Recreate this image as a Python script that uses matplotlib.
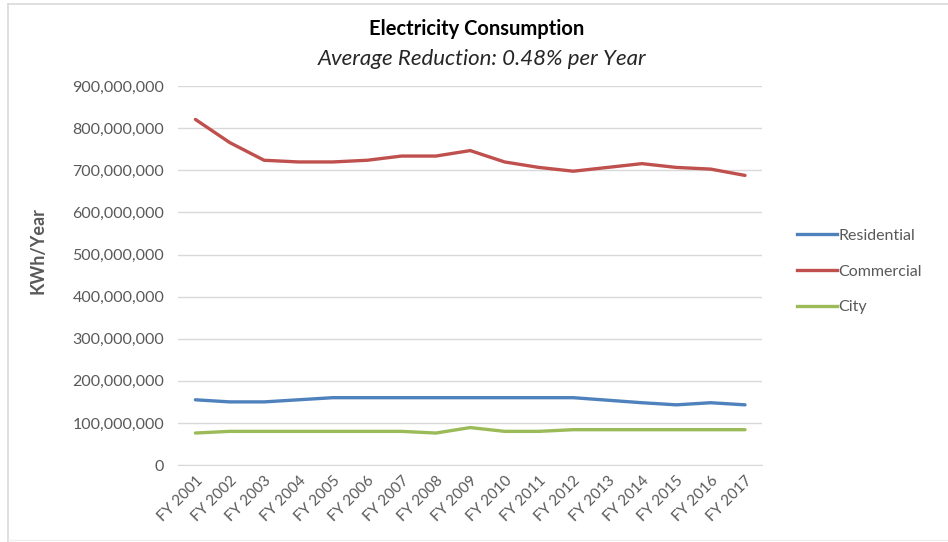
import matplotlib
matplotlib.use("Agg")
import matplotlib.pyplot as plt
import matplotlib.ticker as mticker
from matplotlib.lines import Line2D

plt.rcParams['font.family'] = ['Lato', 'DejaVu Sans']

# Data (kWh per year)
years = ['FY 2001', 'FY 2002', 'FY 2003', 'FY 2004', 'FY 2005', 'FY 2006',
         'FY 2007', 'FY 2008', 'FY 2009', 'FY 2010', 'FY 2011', 'FY 2012',
         'FY 2013', 'FY 2014', 'FY 2015', 'FY 2016', 'FY 2017']
residential = [155e6, 150e6, 150e6, 155e6, 160e6, 160e6, 160e6, 160e6, 160e6,
               160e6, 160e6, 160e6, 154e6, 148e6, 143e6, 148e6, 143e6]
commercial = [821e6, 766e6, 724e6, 720e6, 720e6, 724e6, 734e6, 734e6, 747e6,
              720e6, 707e6, 698e6, 707e6, 716e6, 707e6, 703e6, 688e6]
city = [76e6, 80e6, 80e6, 80e6, 80e6, 80e6, 80e6, 76e6, 89e6,
        80e6, 80e6, 84e6, 84e6, 84e6, 84e6, 84e6, 84e6]
y_ticks = [0, 100e6, 200e6, 300e6, 400e6, 500e6, 600e6, 700e6, 800e6, 900e6]

series = [('Residential', residential, '#4F81BD'),
          ('Commercial', commercial, '#C0504D'),
          ('City', city, '#9BBB59')]

text_gray = '#595959'
grid_gray = '#D9D9D9'

fig = plt.figure(figsize=(9.48, 5.42), dpi=100)
ax = fig.add_axes([0.188, 0.142, 0.616, 0.699])

x = list(range(len(years)))
for name, vals, col in series:
    ax.plot(x, vals, color=col, linewidth=2.4, label=name,
            solid_joinstyle='round', solid_capstyle='round')

ax.set_xlim(-0.5, len(years) - 0.5)
ax.set_ylim(0, 900e6)
ax.set_yticks(y_ticks)
ax.yaxis.set_major_formatter(mticker.FuncFormatter(lambda v, p: f'{int(v):,}'))
ax.set_xticks(x)
ax.set_xticklabels(years, rotation=45, ha='right', rotation_mode='anchor')

ax.grid(axis='y', color=grid_gray, linewidth=1)
ax.set_axisbelow(True)
for s in ['top', 'right', 'left']:
    ax.spines[s].set_visible(False)
ax.spines['bottom'].set_color(grid_gray)
ax.tick_params(axis='both', length=0, colors=text_gray)
ax.tick_params(axis='y', pad=10, labelsize=11.5)
ax.tick_params(axis='x', pad=6, labelsize=11)

ax.set_ylabel('KWh/Year', color=text_gray, fontsize=13, fontweight='bold')
ax.yaxis.set_label_coords(-0.225, 0.567)

fig.text(0.503, 0.947, 'Electricity Consumption', ha='center', va='center',
         fontsize=14.5, fontweight='bold', color='black')
fig.text(0.508, 0.892, 'Average Reduction: 0.48% per Year', ha='center',
         va='center', fontsize=16, style='italic', color='#262626')

handles = [Line2D([0], [0], color=c, lw=2.4) for _, _, c in series]
fig.legend(handles, [n for n, _, _ in series], loc='center left',
           bbox_to_anchor=(0.826, 0.499), frameon=False, fontsize=11.5,
           labelcolor=text_gray, handlelength=2.5, handletextpad=0.05,
           labelspacing=1.35)

# outer chart frame edges visible in the crop
fig.add_artist(Line2D([0.008, 0.008], [0.0, 0.992], color=grid_gray, lw=1.2,
                      transform=fig.transFigure))
fig.add_artist(Line2D([0.008, 1.0], [0.992, 0.992], color=grid_gray, lw=1.2,
                      transform=fig.transFigure))
fig.add_artist(Line2D([0.008, 1.0], [0.004, 0.004], color='#EEEEEE', lw=1.0,
                      transform=fig.transFigure))

fig.savefig('out.png', dpi=100)
